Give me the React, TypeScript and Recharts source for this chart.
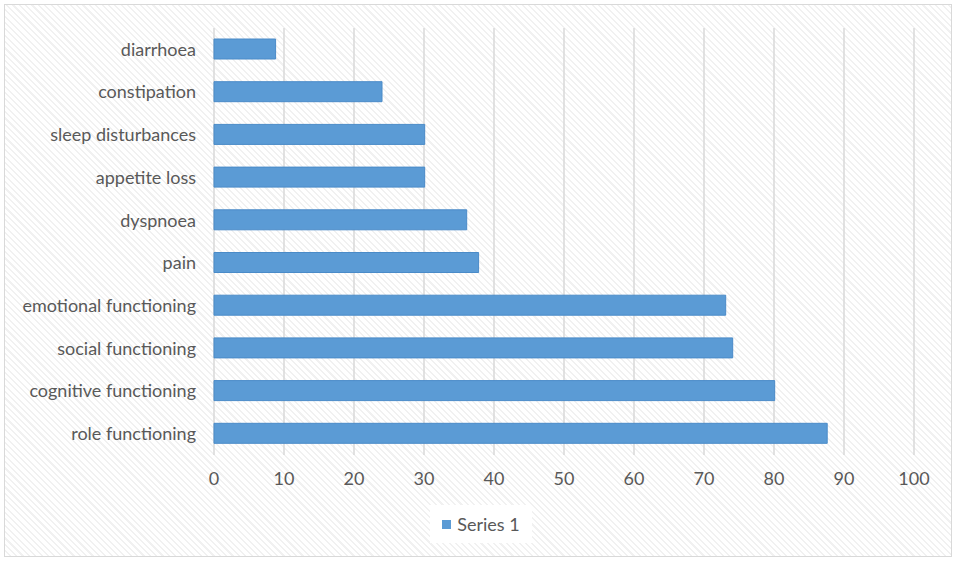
import React from "react";
import {
  BarChart,
  Bar,
  XAxis,
  YAxis,
  CartesianGrid,
  Legend,
} from "recharts";

const categories = [
  "diarrhoea",
  "constipation",
  "sleep disturbances",
  "appetite loss",
  "dyspnoea",
  "pain",
  "emotional functioning",
  "social functioning",
  "cognitive functioning",
  "role functioning",
];
const series1 = [8.8, 24.0, 30.1, 30.1, 36.1, 37.8, 73.1, 74.1, 80.1, 87.6];
const xTicks = [0, 10, 20, 30, 40, 50, 60, 70, 80, 90, 100];

const data = categories.map((name, i) => ({ name, value: series1[i] }));

const FONT = "Lato, 'Liberation Sans', sans-serif";

function LegendBox() {
  return (
    <div
      style={{
        background: "#fff",
        width: 102,
        height: 38,
        display: "flex",
        alignItems: "center",
        justifyContent: "center",
        fontFamily: FONT,
        fontSize: 18,
        color: "#595959",
      }}
    >
      <span
        style={{
          display: "inline-block",
          width: 9,
          height: 9,
          background: "#5b9bd5",
          marginRight: 6,
        }}
      />
      Series 1
    </div>
  );
}

export default function App() {
  return (
    <div
      style={{
        position: "absolute",
        left: 0,
        top: 0,
        width: 957,
        height: 561,
        background: "#fff",
      }}
    >
      <div
        style={{
          position: "absolute",
          left: 4,
          top: 4,
          width: 946,
          height: 551,
          border: "1px solid #d9d9d9",
          backgroundImage:
            "repeating-linear-gradient(45deg, #ffffff 0px, #ffffff 3px, #f1f1f1 3px, #f1f1f1 4.5px)",
        }}
      />
      <div style={{ position: "absolute", left: 0, top: 0 }}>
        <BarChart
          width={957}
          height={561}
          data={data}
          layout="vertical"
          margin={{ top: 28, right: 43, bottom: 38, left: 0 }}
          barSize={20}
        >
          <CartesianGrid
            horizontal={false}
            stroke="#d9d9d9"
            strokeWidth={1.5}
          />
          <XAxis
            type="number"
            domain={[0, 100]}
            ticks={xTicks}
            axisLine={false}
            tickLine={false}
            tickSize={0}
            tickMargin={17}
            height={30}
            tick={{ fill: "#595959", fontSize: 18, fontFamily: FONT }}
          />
          <YAxis
            type="category"
            dataKey="name"
            width={214}
            axisLine={false}
            tickLine={false}
            tickSize={0}
            tickMargin={18}
            tick={{ fill: "#595959", fontSize: 18, fontFamily: FONT }}
          />
          <Legend
            content={() => <LegendBox />}
            wrapperStyle={{ left: 430, top: 505, width: 102, height: 38 }}
          />
          <Bar
            dataKey="value"
            name="Series 1"
            fill="#5b9bd5"
            stroke="#4a8bc8"
            strokeWidth={1}
            isAnimationActive={false}
          />
        </BarChart>
      </div>
    </div>
  );
}
